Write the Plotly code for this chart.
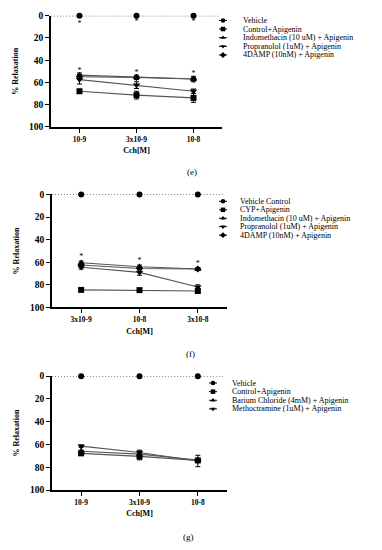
import plotly.graph_objects as go

W, H = 382, 550
SERIF = "Liberation Serif"

# ---------------- data ----------------
conc_e = ["10-9", "3x10-9", "10-8"]
conc_f = ["3x10-9", "10-8", "3x10-8"]
conc_g = ["10-9", "3x10-9", "10-8"]
y_ticks = [0, 20, 40, 60, 80, 100]

names_e = ["Vehicle", "Control+Apigenin", "Indomethacin (10 uM) + Apigenin",
           "Propranolol (1uM) + Apigenin", "4DAMP (10nM) + Apigenin"]
vals_e = [[0, 0, 0], [68, 71.5, 74], [53.5, 55.5, 57], [57.5, 62.5, 68], [55, 55.5, 57]]
errs_e = [[0, 0, 0], [1, 3.5, 4], [2, 2, 2.5], [4, 3, 2], [2, 1, 1]]
stars_e_x = [0, 1, 2, 0, 1, 2]
stars_e_y = [7.5, 6, 6, 49.5, 51.5, 52.5]

names_f = ["Vehicle Control", "CYP+Apigenin", "Indomethacin (10 uM) + Apigenin",
           "Propranolol (1uM) + Apigenin", "4DAMP (10nM) + Apigenin"]
vals_f = [[0, 0, 0], [84.5, 84.7, 85.5], [60.5, 64, 66], [64.5, 69, 82], [62.5, 65.5, 66]]
errs_f = [[0, 0, 0], [1, 1, 1.5], [1.5, 1.5, 1], [1.5, 2.5, 2], [1.5, 1, 1]]
stars_f_x = [0, 1, 2]
stars_f_y = [55.5, 58.5, 61.5]

names_g = ["Vehicle", "Control+Apigenin", "Barium Chloride (4mM) + Apigenin",
           "Methoctramine (1uM) + Apigenin"]
vals_g = [[0, 0, 0], [67.8, 70.5, 74], [66, 68.5, 73.6], [61.5, 67, 74.5]]
errs_g = [[0, 0, 0], [1, 3, 1], [1, 2, 1], [1, 2, 5]]

panel_labels = ["(e)", "(f)", "(g)"]
x_title = "Cch[M]"
y_title = "% Relaxation"

symbols = ["circle", "square", "triangle-up", "triangle-down", "diamond"]
marker_sizes = [6, 6, 6.5, 6.5, 5.5]

# ---------------- layout helpers (pixel geometry) ----------------
def px_x(p):
    return p / W

def px_y(p):
    return 1 - p / H

panels = [
    dict(cats=conc_e, names=names_e, vals=vals_e, errs=errs_e,
         sx=stars_e_x, sy=stars_e_y,
         xdom=(51, 222), ydom=(11, 124),
         leg_key=223, leg_text=241, leg_rows=(15.7, 8.8), lab=(192, 170)),
    dict(cats=conc_f, names=names_f, vals=vals_f, errs=errs_f,
         sx=stars_f_x, sy=stars_f_y,
         xdom=(52, 227), ydom=(193, 308),
         leg_key=223, leg_text=238, leg_rows=(200, 8.6), lab=(190, 355)),
    dict(cats=conc_g, names=names_g, vals=vals_g, errs=errs_g,
         sx=[], sy=[],
         xdom=(52, 227), ydom=(378, 494),
         leg_key=213, leg_text=230, leg_rows=(385, 8.8), lab=(188, 542)),
]

fig = go.Figure()
layout = dict(width=W, height=H, margin=dict(l=0, r=0, t=0, b=0),
              paper_bgcolor="white", plot_bgcolor="rgba(0,0,0,0)",
              showlegend=False, font=dict(family=SERIF, color="black"))
shapes = []
annotations = []
key_x, key_y, key_sym = [], [], []

for i, p in enumerate(panels):
    k = "" if i == 0 else str(i + 1)
    xa, ya = "x" + k, "y" + k
    xs = list(range(len(p["cats"])))
    n = len(p["names"])
    # draw the last series first so that it sits underneath the others
    order = list(range(n))
    if n == 5:
        order = [0, 4, 1, 2, 3]
    for j in order:
        nm, v, e = p["names"][j], p["vals"][j], p["errs"][j]
        is_vehicle = j == 0
        fig.add_trace(go.Scatter(
            x=xs, y=v, name=nm, xaxis=xa, yaxis=ya,
            mode="lines+markers", cliponaxis=False,
            line=dict(color="black" if is_vehicle else "#555555",
                      width=1 if is_vehicle else 1.1,
                      dash="1px,2px" if is_vehicle else "solid"),
            marker=dict(symbol=symbols[j], size=marker_sizes[j], color="black",
                        line=dict(width=0)),
            error_y=dict(type="data", array=e, visible=not is_vehicle,
                         color="black", thickness=1, width=2.5),
        ))
    if p["sx"]:
        fig.add_trace(go.Scatter(
            x=p["sx"], y=p["sy"], xaxis=xa, yaxis=ya, mode="text",
            text=["*"] * len(p["sx"]), cliponaxis=False,
            textfont=dict(family=SERIF, size=8, color="black"),
            hoverinfo="skip"))
    x0, x1 = p["xdom"]
    y0, y1 = p["ydom"]
    layout["xaxis" + k] = dict(
        domain=[px_x(x0), px_x(x1)], anchor=ya, range=[-0.5, 2.5],
        tickmode="array", tickvals=xs, ticktext=p["cats"],
        showline=True, linecolor="black", linewidth=1.6,
        ticks="outside", ticklen=4, tickwidth=1.4, tickcolor="black",
        showgrid=False, zeroline=False, fixedrange=True,
        tickfont=dict(family=SERIF, size=7.5, weight="bold"),
        title=dict(text=x_title, standoff=5,
                   font=dict(family=SERIF, size=8, weight="bold")))
    layout["yaxis" + k] = dict(
        domain=[px_y(y1), px_y(y0)], anchor=xa, range=[100, 0],
        tickmode="array", tickvals=y_ticks,
        showline=True, linecolor="black", linewidth=1.6,
        ticks="outside", ticklen=4, tickwidth=1.4, tickcolor="black",
        showgrid=False, zeroline=False, fixedrange=True,
        tickfont=dict(family=SERIF, size=9.5, weight="bold"),
        title=dict(text=y_title, standoff=9,
                   font=dict(family=SERIF, size=8, weight="bold")))
    # dotted baseline at 0 extending across the axis
    shapes.append(dict(type="line", xref=xa, yref=ya, x0=-0.5, x1=0, y0=0, y1=0,
                       line=dict(color="black", width=1, dash="1px,2px")))
    shapes.append(dict(type="line", xref=xa, yref=ya, x0=2, x1=2.45, y0=0, y1=0,
                       line=dict(color="black", width=1, dash="1px,2px")))
    # legend (keys + text)
    ry0, rstep = p["leg_rows"]
    kx = p["leg_key"]
    for j, nm in enumerate(p["names"]):
        ry = ry0 + j * rstep
        shapes.append(dict(type="line", xref="paper", yref="paper",
                           x0=px_x(kx - 4), x1=px_x(kx + 4), y0=px_y(ry), y1=px_y(ry),
                           line=dict(color="black", width=1)))
        annotations.append(dict(xref="paper", yref="paper", x=px_x(p["leg_text"]), y=px_y(ry),
                                xanchor="left", yanchor="middle", showarrow=False,
                                text=nm, font=dict(family=SERIF, size=8, color="black")))
        key_x.append(kx)
        key_y.append(ry)
        key_sym.append(symbols[j])
    lx_, ly_ = p["lab"]
    annotations.append(dict(xref="paper", yref="paper", x=px_x(lx_), y=px_y(ly_),
                            xanchor="center", yanchor="middle", showarrow=False,
                            text=panel_labels[i], font=dict(family=SERIF, size=9, color="black")))

# legend key markers, drawn on an invisible overlay axis in pixel space
fig.add_trace(go.Scatter(
    x=key_x, y=key_y, xaxis="x10", yaxis="y10", mode="markers", cliponaxis=False,
    hoverinfo="skip",
    marker=dict(symbol=key_sym, size=4.5, color="black", line=dict(width=0))))
layout["xaxis10"] = dict(domain=[0, 1], range=[0, W], visible=False,
                         fixedrange=True, anchor="y10")
layout["yaxis10"] = dict(domain=[0, 1], range=[H, 0], visible=False,
                         fixedrange=True, anchor="x10")

layout["shapes"] = shapes
layout["annotations"] = annotations
fig.update_layout(**layout)
fig.write_html("out.html", config={"displayModeBar": False},
               post_script="document.body.style.margin='0';document.body.style.overflow='hidden';")
